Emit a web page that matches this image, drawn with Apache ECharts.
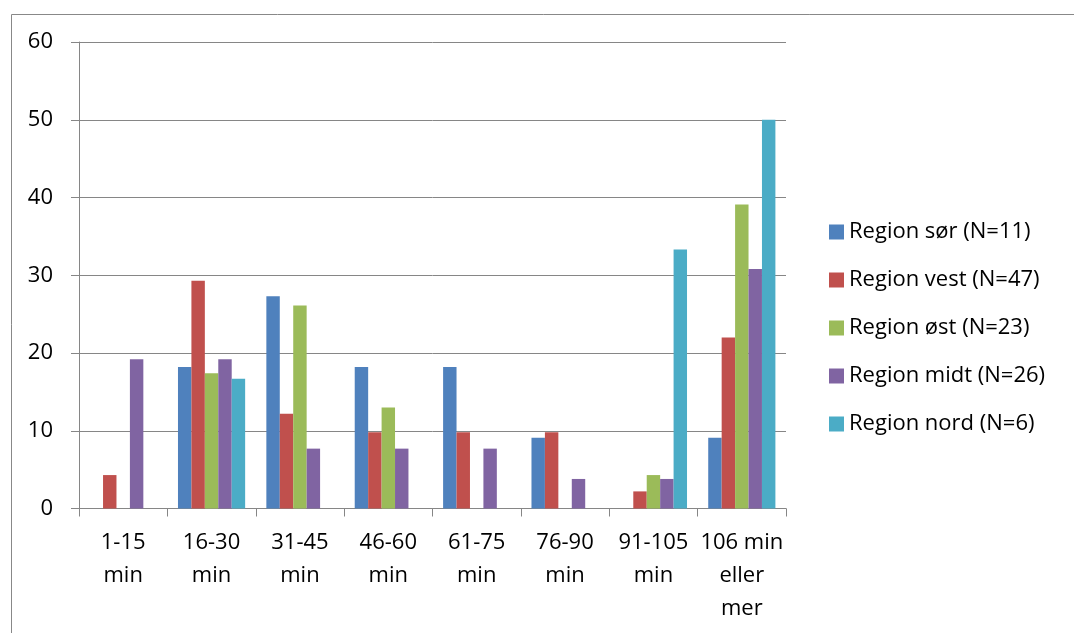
<!DOCTYPE html>
<html>
<head>
<meta charset="utf-8">
<script src="https://cdn.jsdelivr.net/npm/echarts@6/dist/echarts.min.js"></script>
<style>
html,body{margin:0;padding:0;background:#fff;}
#chart{width:1074px;height:633px;}
</style>
</head>
<body>
<div id="chart"></div>
<script>
const categories = ["1-15 min","16-30 min","31-45 min","46-60 min","61-75 min","76-90 min","91-105 min","106 min eller mer"];
const tickLabels = ["1-15\nmin","16-30\nmin","31-45\nmin","46-60\nmin","61-75\nmin","76-90\nmin","91-105\nmin","106 min\neller\nmer"];
const seriesNames = ["Region sør (N=11)","Region vest (N=47)","Region øst (N=23)","Region midt (N=26)","Region nord (N=6)"];
const sor  = [0, 18.2, 27.3, 18.2, 18.2, 9.1, 0, 9.1];
const vest = [4.3, 29.3, 12.2, 9.8, 9.8, 9.8, 2.2, 22.0];
const ost  = [0, 17.4, 26.1, 13.0, 0, 0, 4.3, 39.1];
const midt = [19.2, 19.2, 7.7, 7.7, 7.7, 3.8, 3.8, 30.8];
const nord = [0, 16.7, 0, 0, 0, 0, 33.3, 50.0];
const colors = ["#4F81BD","#C0504D","#9BBB59","#8064A2","#4BACC6"];
const allData = [sor, vest, ost, midt, nord];

const FONT = "Open Sans";
const chart = echarts.init(document.getElementById('chart'));
chart.setOption({
  animation: false,
  color: colors,
  textStyle: {fontFamily: FONT},
  graphic: [{
    type: 'rect', left: 9, top: 12, silent: true,
    shape: {width: 1200, height: 800},
    style: {fill: 'none', stroke: '#888888', lineWidth: 1}
  }],
  grid: {left: 79, right: 288, top: 42, bottom: 124.5},
  legend: {
    orient: 'vertical', left: 824, top: 215, itemGap: 24,
    itemWidth: 15, itemHeight: 15, icon: 'rect',
    textStyle: {fontFamily: FONT, fontSize: 22, lineHeight: 24, color: '#000'},
    data: seriesNames
  },
  xAxis: {
    type: 'category', data: categories,
    axisLine: {lineStyle: {color: '#868686', width: 1}},
    axisTick: {show: true, length: 8, lineStyle: {color: '#868686'}},
    axisLabel: {
      interval: 0, margin: 18, fontSize: 22, color: '#000', lineHeight: 33,
      fontFamily: FONT,
      formatter: (v, i) => tickLabels[i]
    }
  },
  yAxis: {
    type: 'value', min: 0, max: 60, interval: 10,
    axisLine: {show: true, lineStyle: {color: '#868686', width: 1}},
    axisTick: {show: true, length: 8, lineStyle: {color: '#868686'}},
    axisLabel: {fontSize: 22, color: '#000', margin: 26, fontFamily: FONT},
    splitLine: {lineStyle: {color: '#868686', width: 1}}
  },
  series: allData.map((d, i) => ({
    name: seriesNames[i], type: 'bar', data: d,
    barGap: '0%', barCategoryGap: '24%',
    itemStyle: {color: colors[i]}
  }))
});
</script>
</body>
</html>
